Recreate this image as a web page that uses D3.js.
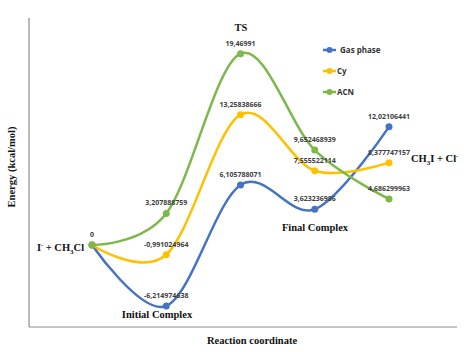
<!DOCTYPE html>
<html>
<head>
<meta charset="utf-8">
<script src="https://cdn.jsdelivr.net/npm/d3@7"></script>
<style>
  body { margin: 0; background: #fff; }
  svg { display: block; }
</style>
</head>
<body>
<svg id="chart" width="474" height="352"></svg>
<script>
const STEPS = ['R', 'IC', 'TS', 'FC', 'P'];
const GAS = [0, -6.214974638, 6.105788071, 3.623236986, 12.02106441];
const CY = [0, -0.991024964, 13.25838666, 7.555522114, 8.377747157];
const ACN = [0, 3.207888759, 19.46991, 9.652468939, 4.686299963];
const GAS_LABELS = ['', '-6,214974638', '6,105788071', '3,623236986', '12,02106441'];
const CY_LABELS = ['', '-0,991024964', '13,25838666', '7,555522114', '8,377747157'];
const ACN_LABELS = ['0', '3,207888759', '19,46991', '9,652468939', '4,686299963'];

const series = [
  { name: 'Gas phase', values: GAS, labels: GAS_LABELS, color: '#4472C4' },
  { name: 'Cy', values: CY, labels: CY_LABELS, color: '#FFC000' },
  { name: 'ACN', values: ACN, labels: ACN_LABELS, color: '#7DB84A' }
];

const svg = d3.select('#chart');
const AXIS_LEFT = 29, AXIS_RIGHT = 457, AXIS_TOP = 18, AXIS_BOTTOM = 327;

const x = d3.scalePoint().domain(STEPS).range([92, 389]);
const y = d3.scaleLinear().domain([-8.35, 23.1]).range([AXIS_BOTTOM, AXIS_TOP]);

// axes (no ticks, just the frame lines)
svg.append('line')
  .attr('x1', AXIS_LEFT).attr('x2', AXIS_LEFT)
  .attr('y1', AXIS_TOP).attr('y2', AXIS_BOTTOM)
  .attr('stroke', '#8c8c8c').attr('stroke-width', 1.2);
svg.append('line')
  .attr('x1', AXIS_LEFT).attr('x2', AXIS_RIGHT)
  .attr('y1', AXIS_BOTTOM).attr('y2', AXIS_BOTTOM)
  .attr('stroke', '#8c8c8c').attr('stroke-width', 1.2);

const line = d3.line()
  .x((d, i) => x(STEPS[i]))
  .y(d => y(d))
  .curve(d3.curveCardinal.tension(0));

series.forEach(s => {
  const g = svg.append('g');
  g.append('path')
    .attr('d', line(s.values))
    .attr('fill', 'none')
    .attr('stroke', s.color)
    .attr('stroke-width', 2.5);
  g.selectAll('circle')
    .data(s.values)
    .enter()
    .append('circle')
    .attr('cx', (d, i) => x(STEPS[i]))
    .attr('cy', d => y(d))
    .attr('r', 3.5)
    .attr('fill', s.color);
});

// data labels above each point
series.forEach(s => {
  svg.append('g').selectAll('text')
    .data(s.values)
    .enter()
    .append('text')
    .attr('x', (d, i) => x(STEPS[i]))
    .attr('y', d => y(d) - 8)
    .attr('text-anchor', 'middle')
    .attr('font-family', 'Open Sans, sans-serif')
    .attr('font-size', '7px')
    .attr('font-weight', 'bold')
    .attr('fill', '#404040')
    .text((d, i) => s.labels[i]);
});

// legend
const legend = svg.append('g').attr('transform', 'translate(323, 50)');
series.forEach((s, i) => {
  const row = legend.append('g').attr('transform', `translate(0, ${i * 21})`);
  row.append('line').attr('x1', 0).attr('x2', 13).attr('y1', 0).attr('y2', 0)
    .attr('stroke', s.color).attr('stroke-width', 2.5);
  row.append('circle').attr('cx', 6.5).attr('cy', 0).attr('r', 3).attr('fill', s.color);
  row.append('text')
    .attr('x', i === 0 ? 17 : 14).attr('y', 3)
    .attr('font-family', 'Open Sans, sans-serif')
    .attr('font-size', '8px')
    .attr('font-weight', 'bold')
    .attr('fill', '#333')
    .text(s.name);
});

// annotations
const serif = 'Liberation Serif, DejaVu Serif, serif';
function note(tx, ty, anchor) {
  return svg.append('text')
    .attr('x', tx).attr('y', ty)
    .attr('text-anchor', anchor || 'start')
    .attr('font-family', serif)
    .attr('font-size', '10.5px')
    .attr('font-weight', 'bold')
    .attr('fill', '#111');
}

note(241, 31, 'middle').text('TS');

const r = note(37, 251);
r.append('tspan').text('I');
r.append('tspan').attr('dy', -4).attr('font-size', '6px').text('-');
r.append('tspan').attr('dy', 4).text(' + CH');
r.append('tspan').attr('dy', 2.5).attr('font-size', '7px').text('3');
r.append('tspan').attr('dy', -2.5).text('Cl');

note(157, 318, 'middle').text('Initial Complex');
note(315, 231, 'middle').text('Final Complex');

const p = note(411, 162);
p.append('tspan').text('CH');
p.append('tspan').attr('dy', 2.5).attr('font-size', '7px').text('3');
p.append('tspan').attr('dy', -2.5).text('I + Cl');
p.append('tspan').attr('dy', -4).attr('font-size', '6px').text('-');

svg.append('text')
  .attr('transform', 'translate(15, 167) rotate(-90)')
  .attr('text-anchor', 'middle')
  .attr('font-family', serif)
  .attr('font-size', '10.5px')
  .attr('font-weight', 'bold')
  .attr('fill', '#111')
  .text('Energy (kcal/mol)');

svg.append('text')
  .attr('x', 252).attr('y', 344)
  .attr('text-anchor', 'middle')
  .attr('font-family', serif)
  .attr('font-size', '10.5px')
  .attr('font-weight', 'bold')
  .attr('fill', '#111')
  .text('Reaction coordinate');
</script>
</body>
</html>
